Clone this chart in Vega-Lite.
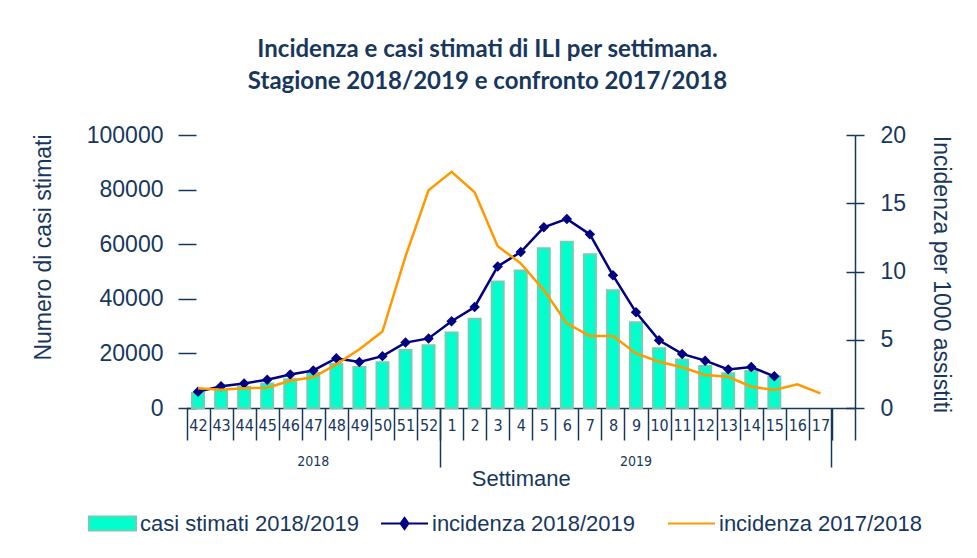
{
  "$schema": "https://vega.github.io/schema/vega-lite/v6.json",
  "width": 677,
  "height": 273,
  "autosize": {"type": "none"},
  "padding": {"left": 178, "top": 135, "right": 122, "bottom": 150},
  "background": "white",
  "config": {
    "view": {"stroke": null},
    "font": "Liberation Sans",
    "axis": {"grid": false, "labelColor": "#17375E", "titleColor": "#17375E", "tickColor": "#17375E", "domainColor": "#17375E", "titleFontWeight": "normal"},
    "legend": {"orient": "none", "title": null, "labelFontSize": 22, "labelColor": "#17375E", "labelFont": "Liberation Sans", "labelLimit": 400, "symbolSize": 2209, "labelOffset": 3, "symbolStrokeWidth": 2, "symbolOpacity": 1}
  },
  "title": {
    "text": ["Incidenza e casi stimati di ILI per settimana.", "Stagione 2018/2019 e confronto 2017/2018"],
    "font": "Lato",
    "fontSize": 24,
    "fontWeight": "bold",
    "color": "#17375E",
    "lineHeight": 32,
    "anchor": "middle",
    "dx": -29,
    "offset": 30
  },
  "data": {
    "values": [
      {"week": "42", "cases": 5500, "inc1819": 1.19, "inc1718": 1.45},
      {"week": "43", "cases": 6700, "inc1819": 1.6, "inc1718": 1.33},
      {"week": "44", "cases": 7700, "inc1819": 1.8, "inc1718": 1.45},
      {"week": "45", "cases": 9000, "inc1819": 2.07, "inc1718": 1.48},
      {"week": "46", "cases": 10500, "inc1819": 2.45, "inc1718": 2.0},
      {"week": "47", "cases": 12800, "inc1819": 2.75, "inc1718": 2.25},
      {"week": "48", "cases": 16200, "inc1819": 3.65, "inc1718": 3.2},
      {"week": "49", "cases": 15000, "inc1819": 3.37, "inc1718": 4.3},
      {"week": "50", "cases": 16800, "inc1819": 3.8, "inc1718": 5.6},
      {"week": "51", "cases": 21200, "inc1819": 4.79, "inc1718": 11.1},
      {"week": "52", "cases": 23000, "inc1819": 5.1, "inc1718": 15.95},
      {"week": "1", "cases": 27700, "inc1819": 6.36, "inc1718": 17.3},
      {"week": "2", "cases": 32700, "inc1819": 7.4, "inc1718": 15.8},
      {"week": "3", "cases": 46300, "inc1819": 10.37, "inc1718": 11.85},
      {"week": "4", "cases": 50350, "inc1819": 11.43, "inc1718": 10.6},
      {"week": "5", "cases": 58500, "inc1819": 13.24, "inc1718": 8.64},
      {"week": "6", "cases": 60900, "inc1819": 13.85, "inc1718": 6.2},
      {"week": "7", "cases": 56300, "inc1819": 12.72, "inc1718": 5.27},
      {"week": "8", "cases": 43100, "inc1819": 9.72, "inc1718": 5.27},
      {"week": "9", "cases": 31400, "inc1819": 7.01, "inc1718": 4.0},
      {"week": "10", "cases": 21900, "inc1819": 4.96, "inc1718": 3.39},
      {"week": "11", "cases": 17800, "inc1819": 3.96, "inc1718": 2.98},
      {"week": "12", "cases": 15400, "inc1819": 3.47, "inc1718": 2.42},
      {"week": "13", "cases": 12700, "inc1819": 2.83, "inc1718": 2.29},
      {"week": "14", "cases": 13550, "inc1819": 3.0, "inc1718": 1.56},
      {"week": "15", "cases": 11500, "inc1819": 2.32, "inc1718": 1.32},
      {"week": "16", "cases": null, "inc1819": null, "inc1718": 1.74},
      {"week": "17", "cases": null, "inc1819": null, "inc1718": 1.07}
    ]
  },
  "resolve": {"scale": {"y": "independent", "color": "independent"}, "axis": {"x": "independent", "y": "independent"}, "legend": {"color": "independent"}},
  "layer": [
    {
      "mark": {"type": "bar", "width": {"band": 0.52}, "stroke": "#6FCFB5", "strokeWidth": 2},
      "encoding": {
        "x": {
          "field": "week", "type": "ordinal",
          "scale": {"domain": ["42","43","44","45","46","47","48","49","50","51","52","1","2","3","4","5","6","7","8","9","10","11","12","13","14","15","16","17","18"], "range": [8.5, 677], "paddingInner": 0, "paddingOuter": 0},
          "axis": {
            "orient": "bottom", "title": "Settimane", "tickBand": "extent", "tickSize": 32, "tickWidth": 1.5,
            "labelFont": "'DejaVu Sans Condensed', 'Liberation Sans'", "labelFontSize": 16, "labelAngle": 0, "labelBaseline": "middle",
            "labelPadding": -15, "labelOverlap": false,
            "labelExpr": "datum.value == '18' ? '' : datum.value",
            "domainWidth": 1.5,
            "titleFontSize": 22, "titleY": 70, "titleBaseline": "middle", "titleFont": "Liberation Sans"
          }
        },
        "y": {
          "field": "cases", "type": "quantitative",
          "scale": {"domain": [0, 100000]},
          "axis": {
            "orient": "left", "values": [0, 20000, 40000, 60000, 80000, 100000], "format": "d",
            "tickSize": -18, "tickWidth": 1.5, "labelPadding": 33, "domain": false,
            "labelFontSize": 23, "labelFont": "Liberation Sans",
            "title": "Numero di casi stimati", "titleFontSize": 23, "titleFont": "Liberation Sans",
            "titleX": -135, "titleY": 112, "titleAngle": -90, "titleBaseline": "middle", "titleAlign": "center"
          }
        },
        "color": {
          "datum": "casi stimati 2018/2019",
          "scale": {"domain": ["casi stimati 2018/2019"], "range": ["#00FFCC"]},
          "legend": {
            "legendX": -90, "legendY": 364,
            "symbolType": "M-1,-0.3H1V0.3H-1Z", "symbolStrokeColor": "#6FCFB5", "symbolFillColor": "#00FFCC"
          }
        }
      }
    },
    {
      "mark": {"type": "line", "strokeWidth": 2.5, "point": {"shape": "diamond", "size": 110, "filled": true, "color": "#000080"}},
      "encoding": {
        "x": {
          "field": "week", "type": "ordinal",
          "axis": {
            "orient": "bottom", "values": ["47", "9"], "labelExpr": "datum.value == '47' ? '2018' : '2019'",
            "ticks": false, "domain": false, "labelPadding": 53, "labelBaseline": "middle",
            "labelFontSize": 14, "labelFont": "'DejaVu Sans Condensed', 'Liberation Sans'", "labelAngle": 0, "title": null
          }
        },
        "y": {
          "field": "inc1819", "type": "quantitative",
          "scale": {"domain": [0, 20]},
          "axis": {
            "orient": "right", "values": [0, 5, 10, 15, 20], "tickSize": 9, "tickWidth": 1.5, "domainWidth": 1.5,
            "labelPadding": 16, "labelFontSize": 23, "labelFont": "Liberation Sans",
            "title": "Incidenza per 1000 assistiti", "titleFontSize": 23, "titleFont": "Liberation Sans",
            "titleAngle": 90, "titleX": 85, "titleY": 139, "titleBaseline": "middle", "titleAlign": "center"
          }
        },
        "color": {
          "datum": "incidenza 2018/2019",
          "scale": {"domain": ["incidenza 2018/2019"], "range": ["#000080"]},
          "legend": {
            "legendX": 202, "legendY": 364,
            "symbolType": "M-1,0H1M0,-0.24L0.17,0L0,0.24L-0.17,0Z", "symbolStrokeColor": "#000080", "symbolFillColor": "#000080"
          }
        }
      }
    },
    {
      "mark": {"type": "line", "strokeWidth": 2.5},
      "encoding": {
        "x": {
          "field": "week", "type": "ordinal",
          "axis": {
            "orient": "bottom", "values": ["52", "17"], "bandPosition": 1, "tickSize": 59, "tickWidth": 1.5,
            "labels": false, "domain": false, "title": null
          }
        },
        "y": {
          "field": "inc1718", "type": "quantitative",
          "scale": {"domain": [0, 20]},
          "axis": {
            "orient": "right", "values": [0, 5, 10, 15, 20], "tickSize": -9, "tickWidth": 1.5,
            "labels": false, "domain": false, "title": null
          }
        },
        "color": {
          "datum": "incidenza 2017/2018",
          "scale": {"domain": ["incidenza 2017/2018"], "range": ["#FF9900"]},
          "legend": {
            "legendX": 489, "legendY": 364,
            "symbolType": "M-1,0H1", "symbolStrokeColor": "#FF9900"
          }
        }
      }
    }
  ]
}
